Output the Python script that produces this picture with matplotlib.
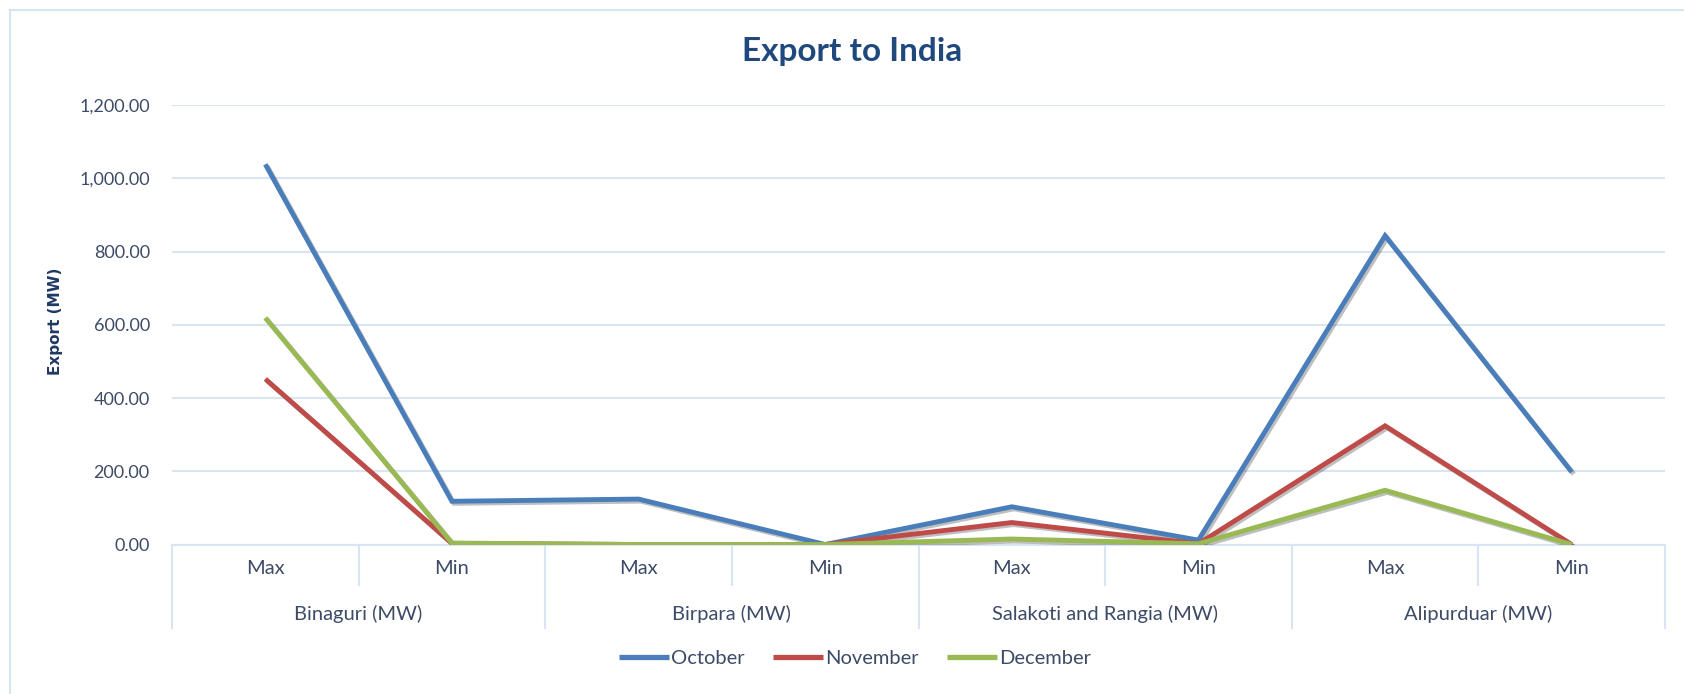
import matplotlib
matplotlib.use("Agg")
import matplotlib.pyplot as plt
import matplotlib.patheffects as pe
from matplotlib.patches import Rectangle

plt.rcParams['font.family'] = ['Lato', 'DejaVu Sans']

groups = ["Binaguri (MW)", "Birpara (MW)", "Salakoti and Rangia (MW)", "Alipurduar (MW)"]
subcats = ["Max", "Min"]
october = [1038, 118, 124, 0, 103, 12, 843, 198]
november = [452, 3, 0, 0, 60, 2, 324, 0]
december = [619, 4, 0, 0, 15, 2, 148, 0]
series_names = ["October", "November", "December"]
series_colors = ["#4A7EBB", "#BE4B48", "#98B954"]
yticks = [0, 200, 400, 600, 800, 1000, 1200]

W, H = 1684, 694
fig = plt.figure(figsize=(W / 100, H / 100), dpi=100)
fig.patches.append(Rectangle((10 / W, -0.1), 1.2, 1 - 10 / H + 0.1, transform=fig.transFigure,
                             fill=False, edgecolor="#D6E3F2", linewidth=1.5))

left, right = 172, 1665
top, bottom = 105, 544.5
ax = fig.add_axes([left / W, 1 - bottom / H, (right - left) / W, (bottom - top) / H])

n = len(groups) * len(subcats)
xs = [i + 0.5 for i in range(n)]
text_color = "#3D4B66"

for vals, name, col in zip([october, november, december], series_names, series_colors):
    ax.plot(xs, vals, color=col, linewidth=3.5, label=name, solid_joinstyle="miter",
            solid_capstyle="butt", zorder=3,
            path_effects=[pe.SimpleLineShadow(offset=(1.5, -1.5), shadow_color="#000000", alpha=0.25),
                          pe.Normal()])

ax.set_xlim(0, n)
ax.set_ylim(0, 1200)
ax.set_yticks(yticks)
ax.set_yticklabels([f"{v:,.2f}" for v in yticks])
ax.tick_params(axis="y", length=0, pad=16, labelsize=13, labelcolor=text_color)
ax.set_xticks([])
ax.grid(axis="y", color="#D9E5F3", linewidth=1.5)
ax.set_axisbelow(True)
for s in ["top", "right", "left"]:
    ax.spines[s].set_visible(False)
ax.spines["bottom"].set_color("#D9E5F3")
ax.spines["bottom"].set_linewidth(1.5)

xt = ax.get_xaxis_transform()
axh = bottom - top
short = -(585 - bottom) / axh
long_ = -(628 - bottom) / axh
for i in range(n + 1):
    yb = long_ if i % len(subcats) == 0 else short
    ax.plot([i, i], [0, yb], transform=xt, clip_on=False, color="#D9E5F3", linewidth=1.5)
for i, x in enumerate(xs):
    ax.text(x, -(569 - bottom) / axh, subcats[i % len(subcats)], transform=xt,
            ha="center", va="center", fontsize=14.5, color=text_color)
for g, name in enumerate(groups):
    ax.text(g * len(subcats) + len(subcats) / 2, -(614 - bottom) / axh, name, transform=xt,
            ha="center", va="center", fontsize=14.5, color=text_color)

ax.set_ylabel("Export (MW)", fontsize=11, fontweight="bold", color="#1F3864",
              family=["DejaVu Sans"])
ax.yaxis.set_label_coords(-(172 - 63) / (right - left), (bottom - 321) / axh)

fig.text(852 / W, 1 - 51 / H, "Export to India", ha="center", va="center",
         fontsize=24, fontweight="bold", color="#1F497D")

handles, labels = ax.get_legend_handles_labels()
leg = fig.legend(handles, labels, loc="center", bbox_to_anchor=(855 / W, 1 - 658 / H), ncol=3,
                 frameon=False, fontsize=14.5, handlelength=2.5, handletextpad=0.1,
                 columnspacing=1.4, labelcolor=text_color)
for line in leg.get_lines():
    line.set_linewidth(3.8)
    line.set_path_effects([])

fig.savefig("out.png", dpi=100, facecolor="white")
